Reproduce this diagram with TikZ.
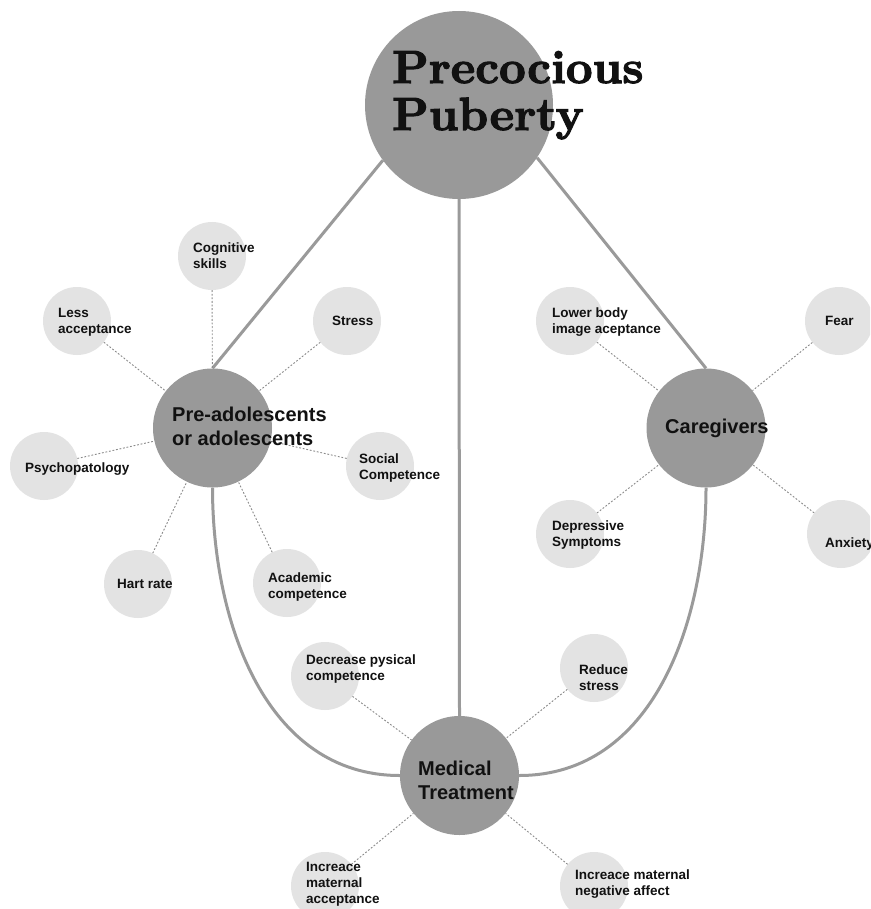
\documentclass[tikz,border=0pt]{standalone}
\usepackage{fontspec}
\setsansfont{Liberation Sans}
\newfontfamily\titlefont{lmroman10-bold.otf}[FakeBold=2.4]
\definecolor{bigc}{HTML}{999999}
\definecolor{smallc}{HTML}{E3E3E3}
\definecolor{linec}{HTML}{9A9A9A}
\definecolor{dotc}{HTML}{8A8A8A}
\definecolor{txt}{HTML}{111111}
\tikzset{
  mainnode/.style={circle, fill=bigc, inner sep=0pt, minimum size=188pt},
  bignode/.style={circle, fill=bigc, inner sep=0pt, minimum size=119pt},
  satnode/.style={circle, fill=smallc, inner sep=0pt, minimum size=68pt},
  link/.style={draw=linec, line width=3pt},
  dotlink/.style={draw=dotc, line width=0.9pt, dash pattern=on 1.8pt off 1.8pt},
  titlelbl/.style={font=\titlefont\fontsize{46.5pt}{47pt}\selectfont, align=left, anchor=base west, inner sep=0pt, text=txt},
  biglbl/.style={font=\sffamily\bfseries\fontsize{20pt}{24pt}\selectfont, align=left, anchor=base west, inner sep=0pt, text=txt},
  smalllbl/.style={font=\sffamily\bfseries\fontsize{13.5pt}{16pt}\selectfont, align=left, anchor=base west, inner sep=0pt, text=txt}
}
\begin{document}
\begin{tikzpicture}[x=1pt,y=-1pt]
\clip (0,0) rectangle (870,909);
\fill[white] (0,0) rectangle (870,909);
% main circles
\node[mainnode] (pp) at (459,105) {};
\node[bignode] (pre) at (212.5,428) {};
\node[bignode] (care) at (706,428) {};
\node[bignode] (med) at (459.5,775.5) {};
% satellites
\node[satnode] (cog) at (212,256) {};
\node[satnode] (less) at (77,321) {};
\node[satnode] (stress) at (347,321) {};
\node[satnode] (psy) at (44,466) {};
\node[satnode] (soc) at (380,466) {};
\node[satnode] (hart) at (138,584) {};
\node[satnode] (acad) at (287,583) {};
\node[satnode] (lower) at (570,321) {};
\node[satnode] (fear) at (839,321) {};
\node[satnode] (dep) at (570,534) {};
\node[satnode] (anx) at (841,534) {};
\node[satnode] (dec) at (325,676) {};
\node[satnode] (red) at (594,668) {};
\node[satnode] (incacc) at (325,886) {};
\node[satnode] (incneg) at (594,886) {};
% solid connectors
\draw[link] (pp.216) -- (pre.north);
\draw[link] (pp.-34) -- (care.north);
\draw[link] (pp.south) -- (med.north);
\draw[link] (pre.south) to[out=-90,in=180] (med.west);
\draw[link] (care.south) to[out=-90,in=0] (med.east);
% dotted connectors
\foreach \s in {cog,less,stress,psy,soc,hart,acad}
  \draw[dotlink] (\s) -- (pre);
\foreach \s in {lower,fear,dep,anx}
  \draw[dotlink] (\s) -- (care);
\foreach \s in {dec,red,incacc,incneg}
  \draw[dotlink] (\s) -- (med);
% labels (anchor = baseline of last line)
\node[titlelbl] (tpp) at (392,130) {Precocious\\Puberty};
\node[biglbl] (tpre) at (172,445) {Pre-adolescents\\or adolescents};
\node[biglbl] (tcare) at (665,433) {Caregivers};
\node[biglbl] (tmed) at (418,799) {Medical\\Treatment};
\node[smalllbl] (tcog) at (193,268) {Cognitive\\skills};
\node[smalllbl] (tless) at (58,333) {Less\\acceptance};
\node[smalllbl] (tstress) at (332,325) {Stress};
\node[smalllbl] (tpsy) at (25,472) {Psychopatology};
\node[smalllbl] (tsoc) at (359,479) {Social\\Competence};
\node[smalllbl] (thart) at (117,588) {Hart rate};
\node[smalllbl] (tacad) at (268,598) {Academic\\competence};
\node[smalllbl] (tlower) at (552,333) {Lower body\\image aceptance};
\node[smalllbl] (tfear) at (825,325) {Fear};
\node[smalllbl] (tdep) at (552,546) {Depressive\\Symptoms};
\node[smalllbl] (tanx) at (825,547) {Anxiety};
\node[smalllbl] (tdec) at (306,680) {Decrease pysical\\competence};
\node[smalllbl] (tred) at (579,690) {Reduce\\stress};
\node[smalllbl] (tincacc) at (306,903) {Increace\\maternal\\acceptance};
\node[smalllbl] (tincneg) at (575,895) {Increace maternal\\negative affect};
\end{tikzpicture}
\end{document}
